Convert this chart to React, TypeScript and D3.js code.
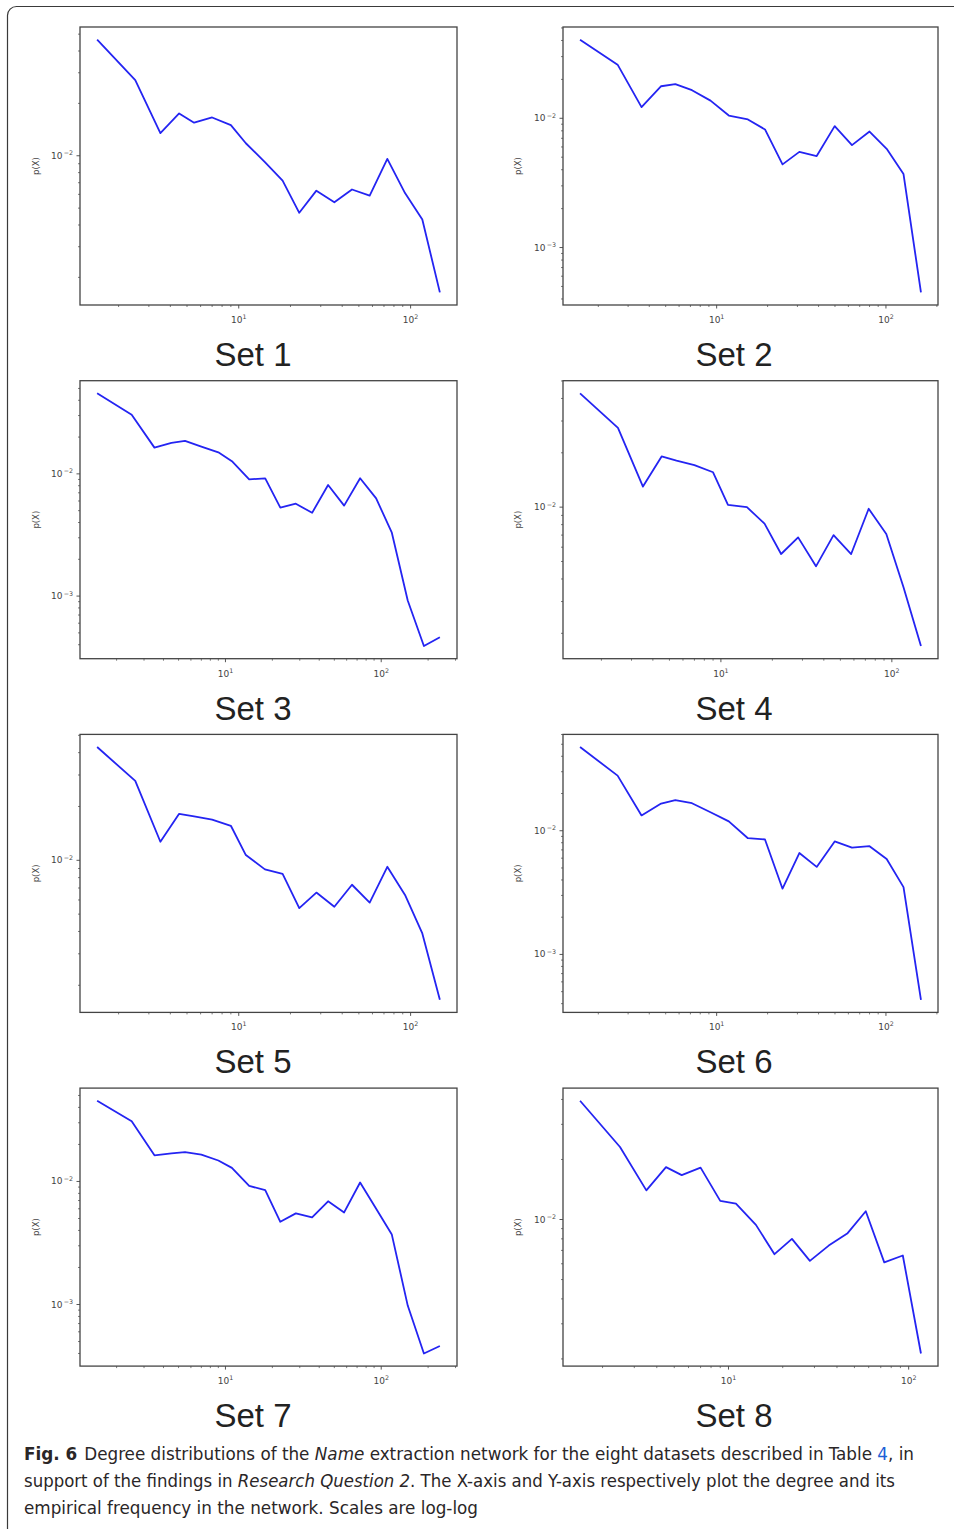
import React from 'react';
import * as d3 from 'd3';

const degreeBins = [1.5, 2.5, 3.5, 4.5, 5.5, 7, 9, 11, 14.2, 18, 22.5, 28.3, 36, 45.6, 57.8, 73.2, 92.8, 117, 148, 188, 238];
const degreeBinsAlt = [1.56, 2.6, 3.6, 4.7, 5.7, 7.15, 9.2, 11.8, 15.3, 19.3, 24.5, 30.8, 39, 49.8, 63, 80, 101, 127, 161];

// p(X) per dataset
const set1 = [0.0465, 0.0272, 0.0135, 0.0175, 0.0155, 0.0166, 0.015, 0.0118, 0.0092, 0.0072, 0.0047, 0.0063, 0.0054, 0.0064, 0.0059, 0.0096, 0.0061, 0.0043, 0.00164];
const set2 = [0.0406, 0.026, 0.0122, 0.0177, 0.0184, 0.0165, 0.0137, 0.0105, 0.0098, 0.0082, 0.0044, 0.0055, 0.0051, 0.0087, 0.0062, 0.0079, 0.0058, 0.0037, 0.00045];
const set3 = [0.0456, 0.0305, 0.0164, 0.0179, 0.0186, 0.0167, 0.015, 0.0127, 0.009, 0.0092, 0.0053, 0.0057, 0.0048, 0.0081, 0.0055, 0.0092, 0.0063, 0.0033, 0.00092, 0.00039, 0.00046];
const set4 = [0.0427, 0.0275, 0.013, 0.0191, 0.0181, 0.0171, 0.0156, 0.0103, 0.01, 0.0081, 0.0055, 0.0068, 0.0047, 0.007, 0.0055, 0.0098, 0.0071, 0.0036, 0.0017];
const set5 = [0.043, 0.0278, 0.0127, 0.0182, 0.0176, 0.0169, 0.0156, 0.0107, 0.0089, 0.0084, 0.0054, 0.0066, 0.0055, 0.0073, 0.0058, 0.0092, 0.0064, 0.0039, 0.00166];
const set6 = [0.0475, 0.0279, 0.0133, 0.0166, 0.0177, 0.0167, 0.0141, 0.0119, 0.0087, 0.0085, 0.0034, 0.0066, 0.0051, 0.0082, 0.0073, 0.0075, 0.0059, 0.0035, 0.00043];
const set7 = [0.0453, 0.0308, 0.0163, 0.0169, 0.0173, 0.0165, 0.0148, 0.0129, 0.0092, 0.0085, 0.0047, 0.0055, 0.0051, 0.0069, 0.0056, 0.0098, 0.006, 0.0037, 0.00098, 0.0004, 0.00046];
const set8 = [0.0394, 0.0231, 0.014, 0.0183, 0.0167, 0.0182, 0.0124, 0.012, 0.0094, 0.0067, 0.008, 0.0062, 0.0074, 0.0085, 0.011, 0.0061, 0.0066, 0.00213];

const panelNames = ['Set 1', 'Set 2', 'Set 3', 'Set 4', 'Set 5', 'Set 6', 'Set 7', 'Set 8'];
const panelSeries = [set1, set2, set3, set4, set5, set6, set7, set8];
const panelBins = [degreeBins, degreeBinsAlt, degreeBins, degreeBins, degreeBins, degreeBinsAlt, degreeBins, degreeBins];

const W = 954;
const H = 1529;
const tickFont = '"DejaVu Sans", sans-serif';
const axisColor = '#444';

// matplotlib style: 5% margin in log space
const padLog = (vals: number[]): [number, number] => {
  const lo = Math.log10(d3.min(vals) as number);
  const hi = Math.log10(d3.max(vals) as number);
  const p = (hi - lo) * 0.05;
  return [Math.pow(10, lo - p), Math.pow(10, hi + p)];
};

const isDecade = (v: number) => Math.abs(Math.log10(v) - Math.round(Math.log10(v))) < 1e-9;

const expLabel = (v: number) => {
  const e = Math.round(Math.log10(v));
  return e < 0 ? '\u2212' + -e : String(e);
};

function Panel({ idx }: { idx: number }) {
  const col = idx % 2;
  const row = Math.floor(idx / 2);
  const left = col ? 563 : 80;
  const width = col ? 375 : 377;
  const top = 27 + row * 353.7;
  const height = 278;
  const labelX = col ? 734 : 253;
  const ylabX = col ? 521 : 39;

  const ys = panelSeries[idx];
  const xs = panelBins[idx].slice(0, ys.length);

  const x = d3.scaleLog().domain(padLog(xs)).range([left, left + width]);
  const y = d3.scaleLog().domain(padLog(ys)).range([top + height, top]);

  const line = d3
    .line<number>()
    .x((_, i) => x(xs[i]))
    .y((d) => y(d));

  const xTicks = x.ticks();
  const yTicks = y.ticks();

  return (
    <g>
      {xTicks.map((t, i) => {
        const major = isDecade(t);
        const px = x(t);
        return (
          <g key={'x' + i}>
            <line x1={px} x2={px} y1={top + height} y2={top + height + (major ? 3.5 : 2)} stroke={axisColor} strokeWidth={major ? 0.9 : 0.7} />
            {major && (
              <text x={px} y={top + height + 18} textAnchor="middle" fontFamily={tickFont} fontSize={9} fill="#444">
                10
                <tspan dy={-4} fontSize={6.3}>{expLabel(t)}</tspan>
              </text>
            )}
          </g>
        );
      })}
      {yTicks.map((t, i) => {
        const major = isDecade(t);
        const py = y(t);
        return (
          <g key={'y' + i}>
            <line x1={left - (major ? 3.5 : 2)} x2={left} y1={py} y2={py} stroke={axisColor} strokeWidth={major ? 0.9 : 0.7} />
            {major && (
              <g fontFamily={tickFont} fill="#444" textAnchor="end">
                <text x={left - 17.5} y={py + 3} fontSize={9}>10</text>
                <text x={left - 7} y={py - 0.5} fontSize={6.3}>{expLabel(t)}</text>
              </g>
            )}
          </g>
        );
      })}
      <text
        transform={`translate(${ylabX},${top + height / 2}) rotate(-90)`}
        textAnchor="middle"
        fontFamily={tickFont}
        fontSize={8.5}
        fill="#444"
      >
        p(X)
      </text>
      <path d={line(ys) || ''} fill="none" stroke="#2424f2" strokeWidth={1.8} strokeLinejoin="round" />
      <rect x={left} y={top} width={width} height={height} fill="none" stroke={axisColor} strokeWidth={1.3} />
      <text x={labelX} y={top + 339} textAnchor="middle" fontFamily='"Liberation Sans", Arial, sans-serif' fontSize={33} fill="#222">
        {panelNames[idx]}
      </text>
    </g>
  );
}

export default function App() {
  const capFont = '"Liberation Sans Narrow", "DejaVu Sans Condensed", "Liberation Sans", sans-serif';
  return (
    <svg
      width={W}
      height={H}
      viewBox={`0 0 ${W} ${H}`}
      style={{ position: 'absolute', left: 0, top: 0, background: '#fff' }}
    >
      <rect x={0} y={0} width={W} height={H} fill="#fff" />
      <rect x={7.5} y={6.5} width={1000} height={1600} rx={9} fill="none" stroke="#3a3a3a" strokeWidth={1.2} />
      {panelNames.map((_, i) => (
        <Panel key={i} idx={i} />
      ))}
      <g fontFamily={capFont} fontSize={18.5} fill="#2a2627">
        <text x={24} y={1460} textLength={890} lengthAdjust="spacingAndGlyphs">
          <tspan fontWeight="bold">Fig. 6</tspan>
          <tspan dx={7}>{'Degree distributions of the '}</tspan>
          <tspan fontStyle="italic">Name</tspan>
          {' extraction network for the eight datasets described in Table '}
          <tspan fill="#1d5fd6">4</tspan>
          {', in'}
        </text>
        <text x={24} y={1487} textLength={871} lengthAdjust="spacingAndGlyphs">
          {'support of the findings in '}
          <tspan fontStyle="italic">Research Question 2</tspan>
          {'. The X-axis and Y-axis respectively plot the degree and its'}
        </text>
        <text x={24} y={1514} textLength={454} lengthAdjust="spacingAndGlyphs">
          empirical frequency in the network. Scales are log-log
        </text>
      </g>
    </svg>
  );
}
